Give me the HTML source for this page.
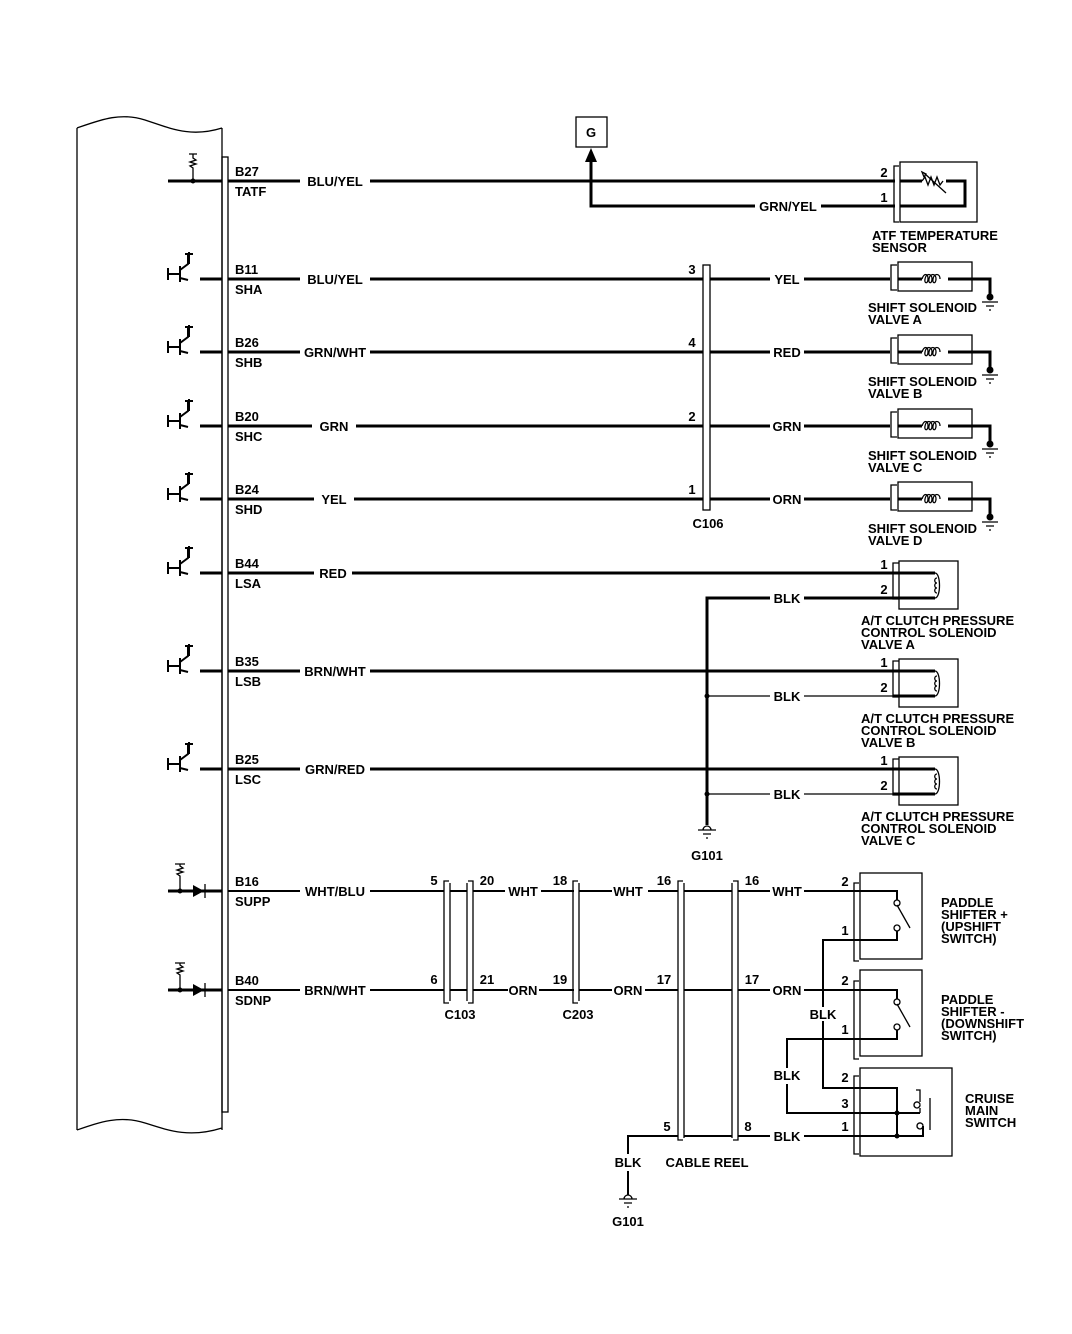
<!DOCTYPE html>
<html><head><meta charset="utf-8"><style>
html,body{margin:0;padding:0;background:#fff}
svg{display:block}
text{font-family:"Liberation Sans",Arial,sans-serif;font-weight:bold;font-size:13px;fill:#000}
.w{stroke:#000;stroke-width:3;fill:none}
.t{stroke:#000;stroke-width:1.3;fill:none}
.m{stroke:#000;stroke-width:2;fill:none}
</style></head><body>
<svg width="1072" height="1334" viewBox="0 0 1072 1334" xmlns="http://www.w3.org/2000/svg">
<!-- ECU -->
<path class="t" d="M77,128 C100,120 120,112 145,120 C170,128 190,138 222,128 M77,128 V1130 M222,128 V1130 M77,1130 C100,1122 120,1115 145,1123 C170,1131 190,1138 222,1128"/>
<rect x="222" y="157" width="6" height="955" class="t"/>

<!-- left symbols: TATF -->
<path class="w" d="M168,181 H222"/>
<path class="t" d="M193,181 V168 l-3,-2 6,-2 -6,-2 6,-2 -3,-2 V154 M189,154 h8"/>
<circle cx="193" cy="181" r="2.5"/>
<!-- transistors -->
<g id="tr">
<path class="w" d="M200,279 H222"/>
<path class="m" d="M168,268 v12 M168,274 h12 M180,266 v16 M180,270 l8,-6 v-10 M185,254 h8 M189,252 v12 M180,278 l8,2"/>
</g>
<use href="#tr" y="73"/><use href="#tr" y="147"/><use href="#tr" y="220"/><use href="#tr" y="294"/><use href="#tr" y="392"/><use href="#tr" y="490"/>
<!-- diodes -->
<g id="di">
<path class="w" d="M168,891 H222"/>
<path class="t" d="M180,891 V876 l-3,-2 6,-2 -6,-2 6,-2 -3,-2 V864 M175,864 h10"/>
<circle cx="180" cy="891" r="2.5"/>
<path d="M193,885 L204,891 L193,897 Z"/>
<line x1="205" y1="884" x2="205" y2="898" class="t"/>
</g>
<use href="#di" y="99"/>

<!-- pin labels -->
<text x="235" y="176">B27</text><text x="235" y="196">TATF</text>
<text x="235" y="274">B11</text><text x="235" y="294">SHA</text>
<text x="235" y="347">B26</text><text x="235" y="367">SHB</text>
<text x="235" y="421">B20</text><text x="235" y="441">SHC</text>
<text x="235" y="494">B24</text><text x="235" y="514">SHD</text>
<text x="235" y="568">B44</text><text x="235" y="588">LSA</text>
<text x="235" y="666">B35</text><text x="235" y="686">LSB</text>
<text x="235" y="764">B25</text><text x="235" y="784">LSC</text>
<text x="235" y="886">B16</text><text x="235" y="906">SUPP</text>
<text x="235" y="985">B40</text><text x="235" y="1005">SDNP</text>

<!-- Row 1 ATF -->
<path class="w" d="M228,181 H300 M370,181 H895"/>
<text x="335" y="186" text-anchor="middle">BLU/YEL</text>
<rect x="576" y="117" width="31" height="30" class="t"/>
<text x="591" y="137" text-anchor="middle" font-size="11">G</text>
<path class="w" d="M591,160 V206 H755 M821,206 H895"/>
<path d="M585,162 L591,148 L597,162 Z"/>
<text x="788" y="211" text-anchor="middle">GRN/YEL</text>
<text x="884" y="177" text-anchor="middle">2</text><text x="884" y="202" text-anchor="middle">1</text>
<path class="t" d="M899,166 h-5 v56 h5"/>
<rect x="900" y="162" width="77" height="60" class="t"/>
<path class="w" d="M900,181 H922 M946,181 H965 V206 H900"/>
<path class="t" d="M922,181 l3,-4 3,8 3,-8 3,8 3,-8 3,8 3,-4 M924,173 l22,20 M922,172 l4,2 -2,3z"/>
<text x="872" y="240">ATF TEMPERATURE</text><text x="872" y="252">SENSOR</text>

<!-- shift solenoid rows -->
<path class="w" d="M228,279 H300 M370,279 H890 M228,352 H300 M370,352 H890 M228,426 H312 M356,426 H890 M228,499 H314 M354,499 H890"/>
<text x="335" y="284" text-anchor="middle">BLU/YEL</text>
<text x="335" y="357" text-anchor="middle">GRN/WHT</text>
<text x="334" y="431" text-anchor="middle">GRN</text>
<text x="334" y="504" text-anchor="middle">YEL</text>
<rect x="700" y="272" width="13" height="14" fill="#fff"/><rect x="700" y="345" width="13" height="14" fill="#fff"/><rect x="700" y="419" width="13" height="14" fill="#fff"/><rect x="700" y="492" width="13" height="14" fill="#fff"/>
<rect x="703" y="265" width="7" height="245" class="t"/>
<path class="w" d="M690,279 H703 M690,352 H703 M690,426 H703 M690,499 H703 M710,279 H720 M710,352 H720 M710,426 H720 M710,499 H720"/>
<text x="692" y="274" text-anchor="middle">3</text><text x="692" y="347" text-anchor="middle">4</text><text x="692" y="421" text-anchor="middle">2</text><text x="692" y="494" text-anchor="middle">1</text>
<text x="708" y="528" text-anchor="middle">C106</text>
<rect x="770" y="270" width="34" height="18" fill="#fff"/><rect x="770" y="343" width="34" height="18" fill="#fff"/><rect x="770" y="417" width="34" height="18" fill="#fff"/><rect x="770" y="490" width="34" height="18" fill="#fff"/>
<text x="787" y="284" text-anchor="middle">YEL</text><text x="787" y="357" text-anchor="middle">RED</text><text x="787" y="431" text-anchor="middle">GRN</text><text x="787" y="504" text-anchor="middle">ORN</text>
<g id="ss">
<path class="t" d="M897,265 h-6 v25 h6"/>
<rect x="898" y="262" width="74" height="29" class="t"/>
<path class="w" d="M898,279 H922 M948,279 H990 V295"/>
<path class="t" d="M922,279 c2,-6 6,-6 6,0 c0,5 -4,5 -3,0 c1,-6 7,-6 7,0 c0,5 -4,5 -3,0 c1,-6 7,-6 7,0 c0,5 -4,5 -3,0 c1,-6 7,-6 7,0"/>
<circle cx="990" cy="297" r="3.5"/>
<path class="t" d="M982,302 h16 M986,306 h8 M989,310 h2"/>
</g>
<use href="#ss" y="73"/><use href="#ss" y="147"/><use href="#ss" y="220"/>
<text x="868" y="312">SHIFT SOLENOID</text><text x="868" y="324">VALVE A</text>
<text x="868" y="386">SHIFT SOLENOID</text><text x="868" y="398">VALVE B</text>
<text x="868" y="460">SHIFT SOLENOID</text><text x="868" y="472">VALVE C</text>
<text x="868" y="533">SHIFT SOLENOID</text><text x="868" y="545">VALVE D</text>

<!-- clutch solenoids -->
<path class="w" d="M228,573 H314 M352,573 H893 M228,671 H300 M370,671 H893 M228,769 H300 M370,769 H893"/>
<text x="333" y="578" text-anchor="middle">RED</text>
<text x="335" y="676" text-anchor="middle">BRN/WHT</text>
<text x="335" y="774" text-anchor="middle">GRN/RED</text>
<path class="w" d="M707,825 V598 H770 M804,598 H893"/>
<path class="t" d="M707,696 H770 M804,696 H893 M707,794 H770 M804,794 H893"/>
<circle cx="707" cy="696" r="2.5"/><circle cx="707" cy="794" r="2.5"/>
<text x="787" y="603" text-anchor="middle">BLK</text><text x="787" y="701" text-anchor="middle">BLK</text><text x="787" y="799" text-anchor="middle">BLK</text>
<path class="t" d="M703,830 a4,4 0 0 1 8,0 M698,830 h18 M703,834 h8 M706,838 h2"/>
<text x="707" y="860" text-anchor="middle">G101</text>
<g id="cs">
<text x="884" y="569" text-anchor="middle">1</text><text x="884" y="594" text-anchor="middle">2</text>
<path class="t" d="M899,563 h-6 v36 h6"/>
<rect x="899" y="561" width="59" height="48" class="t"/>
<path class="w" d="M893,573 H935 M893,598 H935"/>
<path class="t" d="M935,573 c6,0 6,25 0,25 M937,578 c-3,0 -3,5 0,5 c-3,0 -3,5 0,5 c-3,0 -3,5 0,5"/>
</g>
<use href="#cs" y="98"/><use href="#cs" y="196"/>
<text x="861" y="625">A/T CLUTCH PRESSURE</text><text x="861" y="637">CONTROL SOLENOID</text><text x="861" y="649">VALVE A</text>
<text x="861" y="723">A/T CLUTCH PRESSURE</text><text x="861" y="735">CONTROL SOLENOID</text><text x="861" y="747">VALVE B</text>
<text x="861" y="821">A/T CLUTCH PRESSURE</text><text x="861" y="833">CONTROL SOLENOID</text><text x="861" y="845">VALVE C</text>

<!-- bottom wires -->
<path class="m" d="M228,891 H300 M370,891 H444 M228,990 H300 M370,990 H444"/>
<text x="335" y="896" text-anchor="middle">WHT/BLU</text>
<text x="335" y="995" text-anchor="middle">BRN/WHT</text>
<path class="m" d="M450,891 H467 M450,990 H467 M473,891 H505 M541,891 H574 M473,990 H508 M539,990 H574 M579,891 H612 M648,891 H678 M579,990 H612 M645,990 H678 M684,891 H732 M684,990 H732 M738,891 H770 M804,891 H855 M738,990 H770 M804,990 H855 M684,1136 H732 M738,1136 H770 M804,1136 H855"/>
<text x="523" y="896" text-anchor="middle">WHT</text><text x="523" y="995" text-anchor="middle">ORN</text>
<text x="628" y="896" text-anchor="middle">WHT</text><text x="628" y="995" text-anchor="middle">ORN</text>
<text x="787" y="896" text-anchor="middle">WHT</text><text x="787" y="995" text-anchor="middle">ORN</text><text x="787" y="1141" text-anchor="middle">BLK</text>
<!-- C103 -->
<path class="t" d="M449,881 h-5 v122 h5 M450,883 v118 M467,883 v118 M468,881 h5 v122 h-5"/>
<text x="434" y="885" text-anchor="middle">5</text><text x="434" y="984" text-anchor="middle">6</text>
<text x="487" y="885" text-anchor="middle">20</text><text x="487" y="984" text-anchor="middle">21</text>
<text x="460" y="1019" text-anchor="middle">C103</text>
<!-- C203 -->
<path class="t" d="M578,881 h-5 v122 h5 M579,883 v118"/>
<text x="560" y="885" text-anchor="middle">18</text><text x="560" y="984" text-anchor="middle">19</text>
<text x="578" y="1019" text-anchor="middle">C203</text>
<!-- cable reel -->
<path class="t" d="M683,881 h-5 v259 h5 M684,883 v255 M732,883 v255 M733,881 h5 v259 h-5"/>
<text x="664" y="885" text-anchor="middle">16</text><text x="664" y="984" text-anchor="middle">17</text><text x="667" y="1131" text-anchor="middle">5</text>
<text x="752" y="885" text-anchor="middle">16</text><text x="752" y="984" text-anchor="middle">17</text><text x="748" y="1131" text-anchor="middle">8</text>
<text x="707" y="1167" text-anchor="middle">CABLE REEL</text>
<path class="m" d="M678,1136 H628 V1154 M628,1171 V1195"/>
<text x="628" y="1167" text-anchor="middle">BLK</text>
<path class="t" d="M624,1199 a4,4 0 0 1 8,0 M619,1199 h18 M624,1203 h8 M627,1207 h2"/>
<text x="628" y="1226" text-anchor="middle">G101</text>

<!-- switches -->
<path class="t" d="M859,883 h-5 v78 h5 M859,981 h-5 v78 h5 M859,1076 h-5 v78 h5"/>
<rect x="860" y="873" width="62" height="86" class="t"/>
<rect x="860" y="970" width="62" height="86" class="t"/>
<rect x="860" y="1068" width="92" height="88" class="t"/>
<text x="845" y="886" text-anchor="middle">2</text><text x="845" y="935" text-anchor="middle">1</text>
<text x="845" y="985" text-anchor="middle">2</text><text x="845" y="1034" text-anchor="middle">1</text>
<text x="845" y="1082" text-anchor="middle">2</text><text x="845" y="1108" text-anchor="middle">3</text><text x="845" y="1131" text-anchor="middle">1</text>
<path class="m" d="M855,891 H897 V900 M897,931 V940 H823 V1088 H897 V1136 M855,990 H897 V999 M897,1030 V1039 H787 V1068 M787,1084 V1113 H920 M855,1136 H923 V1126"/>
<rect x="812" y="1007" width="24" height="14" fill="#fff"/>
<text x="823" y="1019" text-anchor="middle">BLK</text>
<text x="787" y="1080" text-anchor="middle">BLK</text>
<circle cx="897" cy="903" r="3" class="t"/><circle cx="897" cy="928" r="3" class="t"/><path class="t" d="M897,905 L910,928"/>
<circle cx="897" cy="1002" r="3" class="t"/><circle cx="897" cy="1027" r="3" class="t"/><path class="t" d="M897,1004 L910,1027"/>
<circle cx="897" cy="1113" r="2.5"/><circle cx="897" cy="1136" r="2.5"/>
<path class="t" d="M920,1113 V1108 M920,1105 a3,3 0 1 1 0,-0.1 M920,1102 V1090 H916 M923,1126 a3,3 0 1 1 0,-0.1 M930,1098 V1130"/>
<text x="941" y="907">PADDLE</text><text x="941" y="919">SHIFTER +</text><text x="941" y="931">(UPSHIFT</text><text x="941" y="943">SWITCH)</text>
<text x="941" y="1004">PADDLE</text><text x="941" y="1016">SHIFTER -</text><text x="941" y="1028">(DOWNSHIFT</text><text x="941" y="1040">SWITCH)</text>
<text x="965" y="1103">CRUISE</text><text x="965" y="1115">MAIN</text><text x="965" y="1127">SWITCH</text>
</svg>
</body></html>
